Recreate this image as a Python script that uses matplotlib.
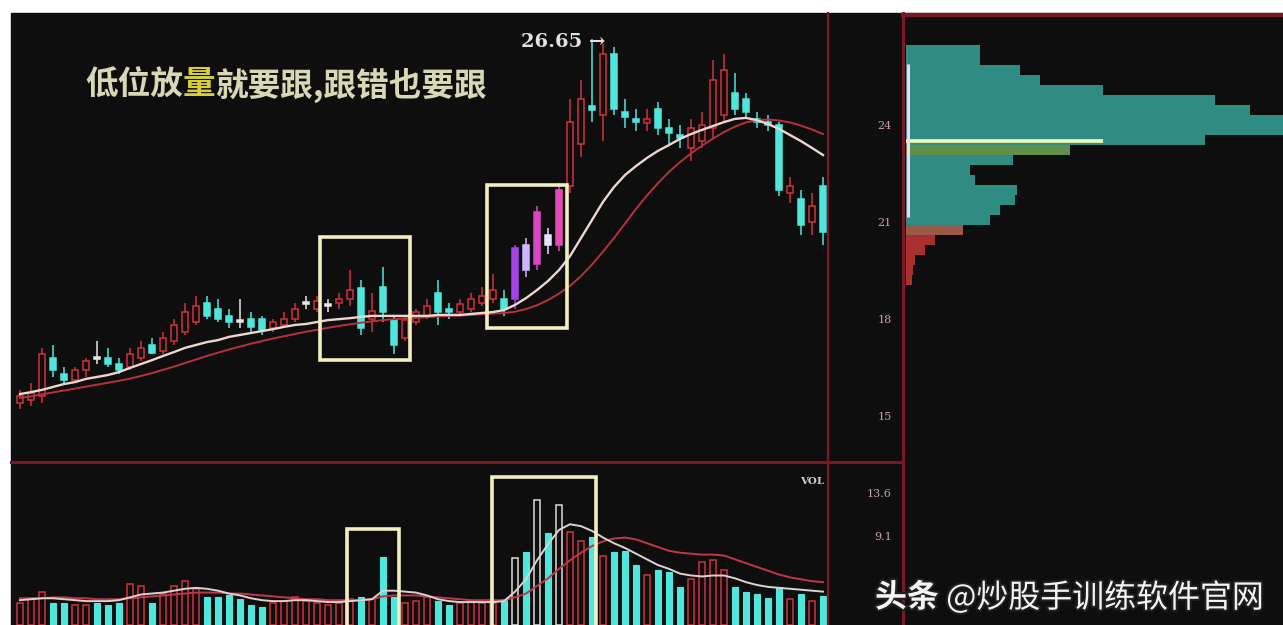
import matplotlib
matplotlib.use('Agg')
import matplotlib.pyplot as plt
from matplotlib.patches import Rectangle
from matplotlib.lines import Line2D
import matplotlib.patheffects as pe
import numpy as np

plt.rcParams['font.family'] = ['Noto Sans CJK SC', 'DejaVu Sans']

# ---------------- data ----------------
opens = [15.4, 15.5, 15.6, 16.8, 16.3, 16.1, 16.4, 16.8, 16.8, 16.6,
         16.5, 16.8, 17.2, 17.0, 17.3, 17.6, 17.9, 18.5, 18.3, 18.1,
         17.95, 18.0, 18.0, 17.7, 17.8, 18.0, 18.45, 18.3, 18.4, 18.5,
         18.6, 18.95, 18.0, 19.0, 17.95, 17.4, 17.9, 18.1, 18.8, 18.3,
         18.2, 18.3, 18.5, 18.6, 18.6, 18.6, 20.3, 19.7, 20.6, 20.3,
         22.1, 23.4, 24.6, 24.3, 26.2, 24.4, 24.2, 24.05, 24.5, 23.9,
         23.7, 23.3, 23.5, 23.9, 24.3, 25.0, 24.8, 24.2, 24.1, 24.0,
         21.9, 21.7, 21.0, 22.1]
highs = [15.8, 16.0, 17.1, 17.2, 16.5, 16.5, 16.8, 17.3, 17.1, 16.8,
         17.1, 17.3, 17.4, 17.6, 18.0, 18.5, 18.7, 18.7, 18.6, 18.3,
         18.6, 18.2, 18.1, 18.0, 18.2, 18.5, 18.7, 18.7, 18.6, 18.8,
         19.5, 19.2, 18.8, 19.6, 18.1, 18.1, 18.3, 18.6, 19.2, 18.5,
         18.6, 18.8, 19.0, 19.4, 18.9, 20.3, 20.5, 21.5, 20.8, 22.2,
         24.8, 25.4, 26.65, 26.5, 26.4, 24.8, 24.5, 24.5, 24.7, 24.2,
         24.0, 24.2, 24.4, 26.0, 26.2, 25.6, 25.0, 24.4, 24.3, 24.1,
         22.4, 22.0, 21.9, 22.4]
lows = [15.2, 15.3, 15.4, 16.2, 16.0, 16.0, 16.2, 16.6, 16.5, 16.3,
        16.4, 16.7, 16.9, 16.9, 17.2, 17.5, 17.8, 18.0, 17.9, 17.7,
        17.7, 17.6, 17.5, 17.6, 17.7, 17.9, 18.3, 18.2, 18.2, 18.3,
        18.4, 17.5, 17.6, 17.9, 16.9, 17.3, 17.8, 18.0, 17.8, 18.0,
        18.1, 18.2, 18.4, 18.5, 18.1, 18.3, 19.3, 19.5, 20.0, 20.1,
        21.9, 23.0, 24.1, 23.5, 24.3, 23.9, 23.8, 23.8, 23.7, 23.4,
        23.3, 22.9, 23.3, 23.6, 24.1, 24.3, 24.2, 23.9, 23.8, 21.8,
        21.6, 20.6, 20.6, 20.3]
closes = [15.6, 15.7, 16.9, 16.4, 16.1, 16.4, 16.7, 16.75, 16.6, 16.4,
          16.9, 17.1, 16.95, 17.4, 17.8, 18.2, 18.4, 18.1, 18.0, 17.9,
          17.9, 17.75, 17.65, 17.9, 18.0, 18.3, 18.5, 18.55, 18.45, 18.6,
          18.9, 17.7, 18.25, 18.2, 17.2, 17.95, 18.2, 18.4, 18.2, 18.2,
          18.45, 18.6, 18.7, 18.9, 18.3, 20.2, 19.5, 21.3, 20.3, 22.0,
          24.1, 24.8, 24.45, 26.2, 24.5, 24.25, 24.1, 24.2, 23.9, 23.75,
          23.6, 23.9, 24.0, 25.4, 25.7, 24.5, 24.4, 24.1, 24.0, 22.0,
          22.1, 20.9, 21.5, 20.7]
ma_fast = [15.67, 15.73, 15.80, 15.89, 15.98, 16.04, 16.14, 16.20, 16.26, 16.35,
           16.48, 16.60, 16.72, 16.85, 16.97, 17.10, 17.19, 17.28, 17.34, 17.44,
           17.50, 17.56, 17.62, 17.68, 17.75, 17.81, 17.84, 17.90, 17.96, 17.99,
           18.02, 18.06, 18.09, 18.09, 18.09, 18.09, 18.09, 18.09, 18.12, 18.12,
           18.12, 18.15, 18.18, 18.21, 18.27, 18.43, 18.64, 18.89, 19.17, 19.51,
           19.94, 20.50, 21.06, 21.62, 22.08, 22.45, 22.73, 22.98, 23.20, 23.38,
           23.57, 23.72, 23.85, 23.97, 24.09, 24.19, 24.22, 24.15, 24.03, 23.88,
           23.69, 23.50, 23.29, 23.07]
ma_slow = [15.55, 15.60, 15.66, 15.72, 15.78, 15.84, 15.90, 15.96, 16.02, 16.08,
           16.15, 16.23, 16.32, 16.42, 16.52, 16.63, 16.74, 16.85, 16.95, 17.05,
           17.14, 17.23, 17.31, 17.39, 17.46, 17.53, 17.60, 17.66, 17.72, 17.78,
           17.83, 17.88, 17.92, 17.96, 17.99, 18.01, 18.03, 18.05, 18.07, 18.09,
           18.10, 18.12, 18.14, 18.16, 18.18, 18.22, 18.30, 18.42, 18.58, 18.78,
           19.02, 19.32, 19.68, 20.08, 20.50, 20.95, 21.40, 21.82, 22.20, 22.55,
           22.85, 23.12, 23.36, 23.58, 23.78, 23.95, 24.08, 24.15, 24.17, 24.14,
           24.08, 23.98, 23.86, 23.72]
volumes = [2.0, 2.5, 3.2, 2.0, 2.0, 1.8, 1.8, 2.0, 1.8, 2.0,
           4.0, 3.8, 2.0, 3.0, 3.8, 4.3, 3.5, 2.6, 2.6, 2.8,
           2.4, 1.8, 1.6, 2.0, 2.2, 2.6, 2.2, 2.0, 1.8, 2.0,
           2.4, 2.6, 2.4, 6.8, 2.6, 2.0, 2.2, 2.6, 2.2, 1.8,
           2.0, 2.2, 2.0, 2.0, 2.4, 6.7, 7.4, 12.9, 9.4, 12.3,
           9.5, 8.5, 9.0, 7.0, 7.4, 7.5, 6.0, 5.0, 5.5, 5.3,
           3.7, 4.5, 6.3, 6.5, 5.5, 3.7, 3.2, 3.0, 2.5, 3.7,
           2.4, 2.9, 2.2, 2.7]
vol_ma_fast = [2.3, 2.4, 2.5, 2.5, 2.4, 2.3, 2.2, 2.2, 2.2, 2.3,
               2.6, 2.9, 3.0, 3.1, 3.3, 3.5, 3.6, 3.5, 3.3, 3.0,
               2.8, 2.5, 2.3, 2.2, 2.2, 2.3, 2.3, 2.2, 2.1, 2.1,
               2.2, 2.3, 2.4, 3.3, 3.3, 3.2, 3.1, 2.8, 2.4, 2.2,
               2.1, 2.1, 2.1, 2.1, 2.2, 3.2, 4.5, 6.5, 8.2, 9.7,
               10.3, 10.1, 9.6, 8.9, 8.3, 7.8, 7.2, 6.6, 6.0, 5.6,
               5.1, 4.9, 4.8, 4.9, 4.9, 4.6, 4.2, 3.9, 3.7, 3.6,
               3.5, 3.4, 3.3, 3.2]
vol_ma_slow = [2.5, 2.5, 2.5, 2.6, 2.6, 2.5, 2.5, 2.4, 2.4, 2.4,
               2.5, 2.6, 2.7, 2.8, 2.9, 3.0, 3.1, 3.1, 3.1, 3.0,
               3.0, 2.9, 2.8, 2.7, 2.6, 2.5, 2.4, 2.4, 2.3, 2.3,
               2.3, 2.3, 2.4, 2.7, 2.8, 2.8, 2.8, 2.7, 2.6, 2.5,
               2.4, 2.3, 2.3, 2.3, 2.3, 2.6, 3.0, 3.8, 4.6, 5.6,
               6.5, 7.3, 8.0, 8.5, 8.8, 8.9, 8.7, 8.3, 7.9, 7.5,
               7.3, 7.2, 7.1, 7.1, 7.0, 6.6, 6.2, 5.8, 5.4, 5.0,
               4.7, 4.5, 4.3, 4.2]
profile_prices = [26.32, 26.01, 25.70, 25.39, 25.08, 24.77, 24.46, 24.15, 23.85, 23.54,
                  23.23, 22.92, 22.61, 22.30, 21.99, 21.68, 21.37, 21.06, 20.75, 20.44,
                  20.13, 19.82, 19.51, 19.20]
profile_widths = [19.5, 19.5, 30.0, 35.3, 51.8, 81.3, 90.5, 105.0, 105.0, 78.7,
                  43.2, 28.2, 16.8, 18.2, 29.2, 28.7, 24.7, 22.1, 15.0, 7.6,
                  5.0, 2.4, 1.8, 1.6]
profile_mark_price = 23.52
profile_mark_width = 51.8
price_ticks = [15, 18, 21, 24]
vol_ticks = [9.1, 13.6]
title_parts = ["低位放", "量", "就要跟,跟错也要跟"]
watermark_parts = ["头条", " @炒股手训练软件官网"]

# ---------------- layout ----------------
W, H = 1283, 625
BG = '#0e0e0e'
RED = '#d2303e'
CYAN = '#4fe6dc'
FRAME = '#7a1828'
BOXC = '#f2efc2'

fig = plt.figure(figsize=(W / 100, H / 100), dpi=100, facecolor='white')
fig.add_artist(Rectangle((11 / W, 0), (W - 11) / W, (H - 13) / H,
                         transform=fig.transFigure, color=BG, zorder=0))

def fx(px):
    return px / W

def fy(py):
    return 1 - py / H

ax_p = fig.add_axes([fx(11), fy(462), (828 - 11) / W, (462 - 13) / H])
ax_v = fig.add_axes([fx(11), 0, (828 - 11) / W, (H - 462) / H])
ax_r = fig.add_axes([fx(903), 0, (W - 903) / W, (H - 13) / H])

PPU = 32.3  # pixels per price unit
p_lo = 24 - (462 - 125) / PPU
p_hi = 24 + (125 - 13) / PPU
x_lo = (11 - 20) / 11
x_hi = (828 - 20) / 11

for a in (ax_p, ax_v, ax_r):
    a.set_facecolor(BG)
    for s in a.spines.values():
        s.set_visible(False)
    a.set_xticks([])

n = len(opens)
idx = np.arange(n)
highlight = {45: '#a443e6', 46: '#cbb8ff', 47: '#d846c4', 48: '#e6e2ff', 49: '#e24cb4'}

# ---- candles ----
for i in idx:
    o, h, l, c = opens[i], highs[i], lows[i], closes[i]
    if i in highlight:
        col = highlight[i]
        face = col
    elif abs(c - o) < 0.08:
        col = '#e6e6e6'
        face = col
    elif c > o:
        col = RED
        face = BG
    else:
        col = CYAN
        face = CYAN
    ax_p.vlines(i, l, h, color=col, lw=1.1, zorder=2)
    bot = min(o, c)
    hgt = max(abs(c - o), 0.06)
    ax_p.bar(i, hgt, bottom=bot, width=0.62, facecolor=face, edgecolor=col,
             lw=1.1, zorder=3)

ax_p.plot(idx, ma_slow, color='#b8303e', lw=1.4, zorder=4)
ax_p.plot(idx, ma_fast, color='#ecd6cf', lw=1.7, zorder=5)
ax_p.set_xlim(x_lo, x_hi)
ax_p.set_ylim(p_lo, p_hi)
ax_p.yaxis.tick_right()
ax_p.set_yticks(price_ticks)
ax_p.set_yticklabels([str(t) for t in price_ticks], fontsize=8,
                     color='#caa0a8', family='DejaVu Serif')
ax_p.tick_params(axis='y', length=0, pad=(892 - 828) * 0.72)
for lab in ax_p.get_yticklabels():
    lab.set_ha('right')

# peak label
imax = int(np.argmax(highs))
ax_p.annotate(f"{highs[imax]:.2f} →", xy=(imax, highs[imax]),
              xytext=(13 * 0.72, -2.6 * 0.72), textcoords='offset points',
              ha='right', va='center', fontsize=14, fontweight='bold',
              family='DejaVu Serif', color='#e2e2e2', zorder=6)

# highlight boxes on the price panel
for (xa, ya, xb, yb) in [(27.3, 16.72, 35.5, 20.53), (42.5, 17.72, 49.7, 22.14)]:
    ax_p.add_patch(Rectangle((xa, ya), xb - xa, yb - ya, fill=False,
                             edgecolor=BOXC, lw=2.6, zorder=7))

# ---- volume ----
VPU = 9.49
v_lo = -(625 - 622) / VPU
v_hi = (622 - 462) / VPU
white_vol = {45, 47, 49}
for i in idx:
    o, c = opens[i], closes[i]
    if i in white_vol:
        ax_v.bar(i, volumes[i] - v_lo, bottom=v_lo, width=0.62, facecolor=BG,
                 edgecolor='#dcdcdc', lw=1.1, zorder=3)
    elif c >= o:
        ax_v.bar(i, volumes[i] - v_lo, bottom=v_lo, width=0.62, facecolor=BG,
                 edgecolor=RED, lw=1.1, zorder=3)
    else:
        ax_v.bar(i, volumes[i] - v_lo, bottom=v_lo, width=0.62, facecolor=CYAN,
                 edgecolor=CYAN, lw=0.8, zorder=3)
ax_v.plot(idx, vol_ma_slow, color='#c03848', lw=1.4, zorder=4)
ax_v.plot(idx, vol_ma_fast, color='#dcd2d2', lw=1.4, zorder=5)
ax_v.set_xlim(x_lo, x_hi)
ax_v.set_ylim(v_lo, v_hi)
ax_v.yaxis.tick_right()
ax_v.set_yticks(vol_ticks)
ax_v.set_yticklabels([f"{t:.1f}" for t in vol_ticks], fontsize=8,
                     color='#caa0a8', family='DejaVu Serif')
ax_v.tick_params(axis='y', length=0, pad=(892 - 828) * 0.72)
for lab in ax_v.get_yticklabels():
    lab.set_ha('right')
for (xa, ya, xb, yb) in [(29.7, v_lo - 1, 34.5, 9.8), (42.9, v_lo - 1, 52.4, 15.3)]:
    ax_v.add_patch(Rectangle((xa, ya), xb - xa, yb - ya, fill=False,
                             edgecolor=BOXC, lw=2.6, zorder=7))
ax_v.text(0.995, 0.88, "VOL", transform=ax_v.transAxes, ha='right', va='center',
          fontsize=7.5, fontweight='bold', family='DejaVu Serif', color='#d0d0d0')

# ---- chip-distribution profile ----
r_lo = 24 - (625 - 125) / PPU
ax_r.set_ylim(r_lo, p_hi)
ax_r.set_xlim(-0.8, 99.2)
ax_r.set_yticks([])
bin_h = 10 / PPU
pcols = []
for p in profile_prices:
    if p < 20.6:
        pcols.append('#a8302e')
    elif p < 20.9:
        pcols.append('#9a5a48')
    elif abs(p - 23.23) < 0.05:
        pcols.append('#5f8f4a')
    else:
        pcols.append('#2f8c82')
ax_r.barh(profile_prices, profile_widths, height=bin_h, left=0, color=pcols,
          edgecolor='none', zorder=2)
ax_r.hlines(profile_mark_price, 0, profile_mark_width, color='#f2ffb8', lw=2.6, zorder=4)
ax_r.vlines(0.4, 21.15, 25.9, color='#f4d6f4', lw=2.2, zorder=5)

# ---- frame lines ----
for (xs, ys, lw) in [([828, 828], [13, 625], 1.6), ([903, 903], [13, 625], 2.2),
                     ([11, 903], [462, 462], 2.2), ([903, 1283], [15, 15], 3.0)]:
    fig.add_artist(Line2D([fx(v) for v in xs], [fy(v) for v in ys],
                          transform=fig.transFigure, color=FRAME, lw=lw, zorder=10))

# ---- title ----
tkw = dict(fontsize=23.5, fontweight='bold', va='center', ha='left',
           family=['Noto Sans CJK SC', 'DejaVu Sans'])
t1 = fig.text(fx(85), fy(85), title_parts[0], color='#d8d8b6', zorder=20, **tkw)
t2 = ax_p.annotate(title_parts[1], xy=(1, 0.5), xycoords=t1, color='#d6cf3a',
                   annotation_clip=False, zorder=20, **tkw)
t3 = ax_p.annotate(title_parts[2], xy=(1, 0.5), xycoords=t2, color='#d8d8b6',
                   annotation_clip=False, zorder=20, **tkw)

# ---- watermark ----
wkw = dict(fontsize=23, va='center', ha='left', color='#f4f4f4',
           family=['Noto Sans CJK SC', 'DejaVu Sans'],
           path_effects=[pe.withStroke(linewidth=3, foreground='#202020')])
w1 = fig.text(fx(875), fy(598), watermark_parts[0], fontweight='bold', zorder=30, **wkw)
ax_r.annotate(watermark_parts[1], xy=(1, 0.5), xycoords=w1, annotation_clip=False,
              zorder=30, **wkw)

fig.savefig('out.png', dpi=100, facecolor='white')
